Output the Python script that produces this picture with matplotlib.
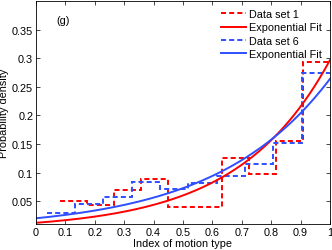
import numpy as np
import matplotlib
matplotlib.use('Agg')
import matplotlib.pyplot as plt

plt.rcParams['font.family'] = ['Liberation Sans', 'DejaVu Sans']
plt.rcParams['font.size'] = 7.8

# histogram bin edges and heights
edges_1 = np.linspace(0.082, 1.0, 11)
dens_1 = [0.050, 0.043, 0.069, 0.088, 0.040, 0.040, 0.126, 0.098, 0.156, 0.293]
edges_6 = np.linspace(0.037, 1.0, 11)
dens_6 = [0.030, 0.045, 0.057, 0.083, 0.071, 0.082, 0.094, 0.115, 0.152, 0.274]

# exponential fit parameters a*exp(b*x)
a_1, b_1 = 0.0121, 3.2
a_6, b_6 = 0.020, 2.58

red = '#ff0000'
blue = '#2f4fff'

fig = plt.figure(figsize=(3.32, 2.51), dpi=100)
ax = fig.add_axes([0.1084, 0.1036, 0.8856, 0.8884])

xx = np.linspace(0, 1, 300)
ax.stairs(dens_1, edges_1, baseline=None, color=red, lw=1.4, ls=(0, (2.6, 1.6)), label='Data set 1')
ax.plot(xx, a_1 * np.exp(b_1 * xx), color=red, lw=1.4, label='Exponential Fit')
ax.stairs(dens_6, edges_6, baseline=None, color=blue, lw=1.4, ls=(0, (2.6, 1.6)), label='Data set 6')
ax.plot(xx, a_6 * np.exp(b_6 * xx), color=blue, lw=1.4, label='Exponential Fit')

ax.set_xlim(0, 1)
ax.set_ylim(0.01, 0.40)
ax.set_xticks(np.arange(0, 1.01, 0.1))
ax.set_xticklabels(['0', '0.1', '0.2', '0.3', '0.4', '0.5', '0.6', '0.7', '0.8', '0.9', '1'])
ax.set_yticks([0.05, 0.1, 0.15, 0.2, 0.25, 0.3, 0.35])
ax.set_yticklabels(['0.05', '0.1', '0.15', '0.2', '0.25', '0.3', '0.35'])
ax.tick_params(direction='in', top=True, right=True, length=3, width=0.5, pad=2)
for s in ax.spines.values():
    s.set_linewidth(0.6)

ax.set_xlabel('Index of motion type', labelpad=1)
ax.set_ylabel('Probability density', labelpad=2)
ax.text(0.092, 0.367, '(g)', ha='center', va='center')

ax.legend(loc='upper right', frameon=False, handlelength=2.3, handletextpad=0.3,
          labelspacing=0.3, borderaxespad=0.55, borderpad=0.2)

fig.savefig('out.png', dpi=100)
